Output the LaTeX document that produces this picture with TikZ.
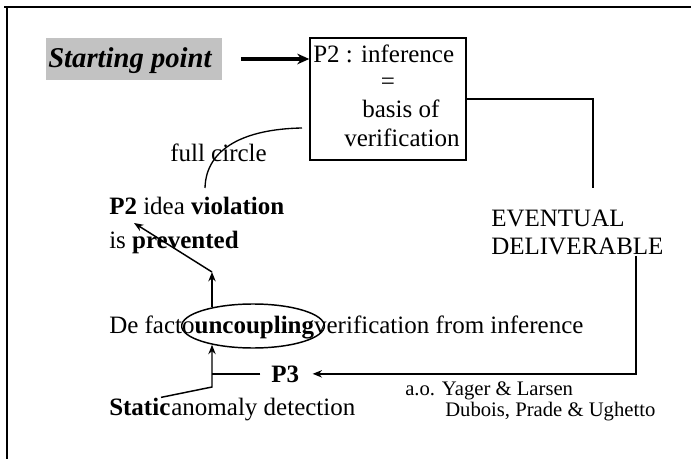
\documentclass[tikz,border=0pt]{standalone}
\usepackage{fontspec}
\setmainfont{Liberation Serif}
\usetikzlibrary{arrows.meta,shapes.geometric}
\begin{document}
\begin{tikzpicture}[x=0.75pt,y=-0.75pt,
  txt/.style={inner sep=0pt, anchor=base west, font=\fontsize{18.75}{22}\selectfont},
  small/.style={inner sep=0pt, anchor=base west, font=\fontsize{15.5}{18}\selectfont},
  wire/.style={line width=1.1pt},
  arr/.style={wire, -{Stealth[length=7pt,width=5.5pt]}},
  heavyarr/.style={line width=2.4pt, -{Stealth[length=9pt,width=8pt]}},
]
\useasboundingbox (0,0) rectangle (691,459);

% page frame (top and left edges)
\draw[line width=1.6pt] (4,7) -- (691,7);
\draw[line width=1.6pt] (7,7) -- (7,459);

% starting point label
\node[fill=black!24, minimum width=132pt, minimum height=31pt, inner sep=0pt] (start) at (134,59) {};
\node[inner sep=0pt, anchor=base west, font=\fontsize{21.5}{24}\selectfont\bfseries\itshape] (startlbl) at (48,68) {Starting point};

% P2 box and its lines of text
\node[draw, line width=1.1pt, minimum width=117pt, minimum height=91.5pt, inner sep=0pt] (p2) at (388,99) {};
\node[txt] (p2a) at (313,63) {P2 : inference};
\node[txt, anchor=base] (p2b) at (388,90) {=};
\node[txt] (p2c) at (362,118) {basis of};
\node[txt] (p2d) at (344,147) {verification};

\draw[heavyarr] ([xshift=14pt]start.east) -- (p2.west |- start.east);

% full circle
\node[txt] (fc) at (170,162) {full circle};
\coordinate (fcs) at (302,128);
\coordinate (fce) at (205,188);
\draw[line width=1pt] (fcs) .. controls (245,129) and (206,148) .. (fce);

% P2 idea violation
\node[txt] (viol) at (109,215) {\textbf{P2} idea \textbf{violation}};
\node[txt] (prev) at (109,248) {is \textbf{prevented}};

% eventual deliverable
\node[txt] (ev1) at (491,227) {EVENTUAL};
\node[txt] (ev2) at (491,255) {DELIVERABLE};
\coordinate (dtop) at (593,188);
\draw[wire] (p2.east) -| (dtop);

% uncoupling line and ellipse
\node[txt] (defacto) at (109,333) {De facto\textbf{uncoupling}verification from inference};
\node[draw, ellipse, line width=1.1pt, minimum width=107pt, minimum height=33pt, inner sep=0pt] (ell) at (253,326) {};

% P3 and static anomaly detection
\node[txt, font=\fontsize{18.75}{22}\selectfont\bfseries] (p3) at (271,382) {P3};
\node[txt] (sa) at (109,415) {\textbf{Static}\hspace{0.04em}anomaly detection};
\node[small] (ref1) at (405,395) {a.o. Yager \& Larsen};
\node[small] (ref2) at (445,416) {Dubois, Prade \& Ughetto};

% connectors
\coordinate (lift) at (212,272);
\coordinate (bend) at (212,387);
\coordinate (vtip) at (134,223);

\draw[arr] (ev2.south -| 636,0) |- ([xshift=10pt]p3.east);
\draw[wire] ([xshift=-8pt]p3.west) -- (bend |- p3.west);
\draw[arr] ([xshift=39pt]sa.north west) -- (bend) -- (bend |- ell.205);
\draw[arr] (lift |- ell.155) -- (lift);
\draw[arr] (lift) -- (vtip);
\end{tikzpicture}
\end{document}
